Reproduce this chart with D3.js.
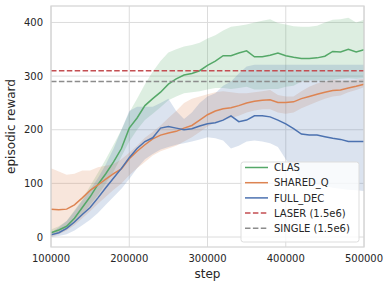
<!DOCTYPE html>
<html><head><meta charset="utf-8">
<script src="https://cdn.jsdelivr.net/npm/d3@7"></script>
<style>body{margin:0;background:#fff}svg{display:block}text{font-family:"DejaVu Sans",sans-serif}</style>
</head><body><svg id="c" width="391" height="289"></svg>
<script>
const steps = d3.range(100000, 500001, 10000);
const clasMean = [8,13,20,35,55,75,98,118,140,165,203,222,245,258,270,285,295,302,305,310,320,328,338,338,343,347,336,336,339,343,338,335,333,333,334,337,346,345,350,345,349];
const clasLow  = [3,8,14,26,42,60,78,100,122,150,178,200,218,230,242,255,262,268,270,272,275,278,278,276,278,280,275,275,276,276,280,282,290,292,292,292,293,295,296,295,296];
const clasHigh = [14,20,30,50,70,95,120,145,172,200,232,258,285,308,328,344,350,355,358,362,370,376,385,392,394,396,400,403,406,399,396,393,392,392,394,400,405,406,409,400,405];
const sharedMean = [52,51,52,60,73,87,97,108,118,127,146,160,172,183,190,194,197,203,208,218,228,235,239,241,245,250,253,255,256,251,251,252,258,262,266,270,273,274,278,281,285];
const sharedLow  = [0,5,12,22,35,48,62,75,88,100,115,128,140,152,160,165,170,178,186,196,206,213,218,222,226,232,236,238,238,232,230,232,240,246,252,258,262,264,270,274,279];
const sharedHigh = [128,122,116,118,124,124,130,133,136,145,157,170,185,196,208,222,235,250,258,262,266,270,272,270,268,268,270,272,274,265,262,262,272,280,286,290,293,292,292,293,295];
const fullMean = [4,8,16,28,42,55,73,92,110,128,148,165,178,185,203,206,203,200,202,207,211,213,218,226,215,218,226,226,224,218,211,202,192,190,190,187,184,182,178,178,178];
const fullLow  = [0,2,5,12,22,32,45,60,75,90,108,128,145,155,163,168,172,175,178,182,186,184,180,165,170,178,180,178,175,168,145,125,110,102,98,95,92,90,88,87,86];
const fullHigh = [8,18,30,48,68,88,110,135,165,200,235,243,243,243,250,258,235,220,232,250,262,268,282,290,305,318,321,321,321,321,321,321,321,321,321,321,321,321,321,321,321];
const laserValue = 310, singleValue = 290;
const xTicks = [100000,200000,300000,400000,500000];
const yTicks = [0,100,200,300,400];
const seriesNames = ["CLAS","SHARED_Q","FULL_DEC","LASER (1.5e6)","SINGLE (1.5e6)"];
const colors = ["#55a868","#dd8452","#4c72b0","#c44e52","#8c8c8c"];

const svg = d3.select("#c");
const L=51,R=364,T=6,B=247;
const x = d3.scaleLinear().domain([100000,500000]).range([L,R]);
const y = d3.scaleLinear().domain([-18.6,430.7]).range([B,T]);

const g = svg.append("g");
g.selectAll(".gx").data(xTicks).join("line").attr("x1",d=>x(d)).attr("x2",d=>x(d)).attr("y1",T).attr("y2",B).attr("stroke","#dcdcdc").attr("stroke-width",1);
g.selectAll(".gy").data(yTicks).join("line").attr("x1",L).attr("x2",R).attr("y1",d=>y(d)).attr("y2",d=>y(d)).attr("stroke","#dcdcdc").attr("stroke-width",1);

const series = [
  {m:clasMean,l:clasLow,h:clasHigh,c:colors[0]},
  {m:sharedMean,l:sharedLow,h:sharedHigh,c:colors[1]},
  {m:fullMean,l:fullLow,h:fullHigh,c:colors[2]}
];
const area = d3.area().x((d,i)=>x(steps[i])).y0(d=>y(d[0])).y1(d=>y(d[1]));
const line = d3.line().x((d,i)=>x(steps[i])).y(d=>y(d));
series.forEach(s=>{
  svg.append("path").datum(s.l.map((v,i)=>[v,s.h[i]])).attr("d",area).attr("fill",s.c).attr("fill-opacity",0.2);
});
series.forEach(s=>{
  svg.append("path").datum(s.m).attr("d",line).attr("fill","none").attr("stroke",s.c).attr("stroke-width",1.5);
});
[[laserValue,colors[3]],[singleValue,colors[4]]].forEach(([v,c])=>{
  svg.append("line").attr("x1",L).attr("x2",R).attr("y1",y(v)).attr("y2",y(v)).attr("stroke",c).attr("stroke-width",1.5).attr("stroke-dasharray","5.5,2.4");
});

svg.append("rect").attr("x",L).attr("y",T).attr("width",R-L).attr("height",B-T).attr("fill","none").attr("stroke","#d5d5d5").attr("stroke-width",1.25);

svg.selectAll(".xt").data(xTicks).join("text").attr("x",d=>x(d)).attr("y",B+15).attr("text-anchor","middle").attr("font-size",10).attr("fill","#262626").text(d=>d);
svg.selectAll(".yt").data(yTicks).join("text").attr("x",L-8).attr("y",d=>y(d)+3.6).attr("text-anchor","end").attr("font-size",10).attr("fill","#262626").text(d=>d);
svg.append("text").attr("x",(L+R)/2).attr("y",277.5).attr("text-anchor","middle").attr("font-size",12).attr("fill","#262626").text("step");
svg.append("text").attr("transform",`translate(14.5,${(T+B)/2}) rotate(-90)`).attr("text-anchor","middle").attr("font-size",12).attr("fill","#262626").text("episodic reward");

const lg = svg.append("g");
lg.append("rect").attr("x",241).attr("y",162).attr("width",118).attr("height",80).attr("rx",2.5).attr("fill","#fff").attr("fill-opacity",0.8).attr("stroke","#dddddd").attr("stroke-width",1);
seriesNames.forEach((n,i)=>{
  const yy = 167.5+i*15.2;
  lg.append("line").attr("x1",245).attr("x2",268).attr("y1",yy).attr("y2",yy).attr("stroke",colors[i]).attr("stroke-width",1.5).attr("stroke-dasharray",i>=3?"5.5,2.4":null);
  lg.append("text").attr("x",274).attr("y",yy+3.6).attr("font-size",10).attr("fill","#262626").text(n);
});
</script></body></html>
